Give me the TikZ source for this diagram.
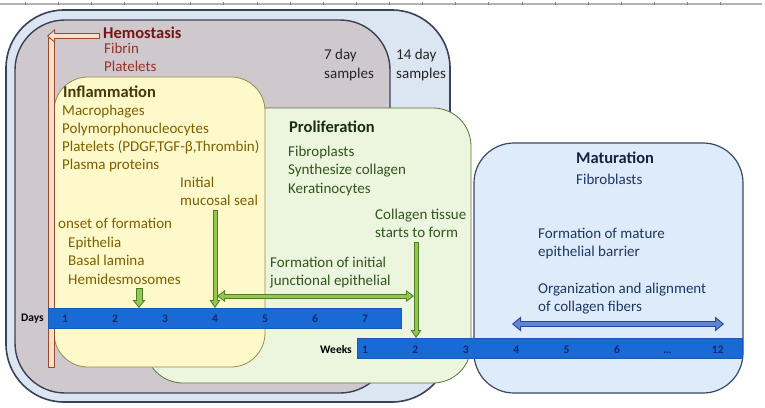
\documentclass[tikz,border=0pt]{standalone}
\usepackage{fontspec}
\setmainfont{Carlito}
\usepackage{xcolor}
\definecolor{rulegray}{RGB}{178,178,178}
\definecolor{outerblue}{RGB}{220,229,242}
\definecolor{boxline}{RGB}{58,66,86}
\definecolor{sevengray}{RGB}{207,201,206}
\definecolor{samptext}{RGB}{38,38,38}
\definecolor{inflfill}{RGB}{254,249,202}
\definecolor{inflline}{RGB}{150,140,80}
\definecolor{inflhead}{RGB}{70,55,5}
\definecolor{infltext}{RGB}{125,95,0}
\definecolor{proffill}{RGB}{236,246,222}
\definecolor{profline}{RGB}{95,115,60}
\definecolor{profhead}{RGB}{25,45,15}
\definecolor{proftext}{RGB}{50,85,30}
\definecolor{matfill}{RGB}{222,235,250}
\definecolor{matline}{RGB}{60,72,100}
\definecolor{mathead}{RGB}{25,35,65}
\definecolor{mattext}{RGB}{30,55,100}
\definecolor{hemoline}{RGB}{150,75,45}
\definecolor{hemofill}{RGB}{250,224,202}
\definecolor{hemohead}{RGB}{120,20,20}
\definecolor{hemotext}{RGB}{150,50,40}
\definecolor{barblue}{RGB}{26,106,214}
\definecolor{barnum}{RGB}{15,40,110}
\definecolor{grnline}{RGB}{80,125,40}
\definecolor{grnfill}{RGB}{146,200,80}
\definecolor{bluline}{RGB}{40,70,155}
\definecolor{blufill}{RGB}{95,132,212}
\usetikzlibrary{arrows.meta}
\usetikzlibrary{calc}
\tikzset{
  txt/.style={inner sep=0pt, anchor=base west, font=\fontsize{15}{18}\selectfont},
  hd/.style={inner sep=0pt, anchor=base west, font=\fontsize{16.5}{18}\selectfont\bfseries},
  barlab/.style={inner sep=0pt, font=\fontsize{11.5}{13}\selectfont\bfseries}
}

\begin{document}
\begin{tikzpicture}[x=1pt, y=-1pt]
	\fill[white] (0,0) rectangle (765,407);
	\useasboundingbox (0,0) rectangle (765,407);
				% ruler line on top
	\draw[rulegray, line width=2pt] (0,3.5) -- (762,3.5);
	\foreach \k in {0,...,21}
		\draw[gray, line width=0.7pt] (25+33.13*\k,2) -- ++(0,3);
				% sample boxes
	\filldraw[color=outerblue, line width=1.6pt, draw=boxline, rounded corners=58pt] (6,10) rectangle ++(444,392);
	\filldraw[color=sevengray, line width=1.4pt, draw=boxline, rounded corners=50pt] (15,20) rectangle ++(375,373);
	\node[txt, text=samptext] (seven) at (324,59) {7 day};
	\node[txt, text=samptext] (sevens) at (324,78) {samples};
	\node[txt, text=samptext] (fourteen) at (396,59) {14 day};
	\node[txt, text=samptext] (fourteens) at (396,78) {samples};
				% phase boxes
	\filldraw[color=proffill, thick, draw=profline, rounded corners=38pt] (145,108) rectangle ++(326,275);
	\filldraw[color=matfill, line width=1.2pt, draw=matline, rounded corners=40pt] (474,143) rectangle ++(269,250);
	\filldraw[color=inflfill, thick, draw=inflline, rounded corners=34pt] (54,77) rectangle ++(211,290);
				% hemostasis bar
	\filldraw[color=hemofill, thick, draw=hemoline] (48,38) rectangle ++(6,329);
	\node[hd, text=hemohead] (hemo) at (103,38) {Hemostasis};
	\node[txt, text=hemotext] (fibrin) at (104,53) {Fibrin};
	\node[txt, text=hemotext] (hplate) at (104,71.5) {Platelets};
	\coordinate (hemotip) at (47,36);
	\draw[hemoline, line width=6.5pt, -{Triangle[width=14pt, length=8pt, line width=0pt]}] ([xshift=-3pt]hemo.west |- hemotip) -- (hemotip);
	\draw[hemofill, line width=4.5pt, shorten <=1pt, shorten >=1.5pt, -{Triangle[width=9.6pt, length=5.5pt, line width=0pt]}] ([xshift=-3pt]hemo.west |- hemotip) -- (hemotip);
				% time bars
	\filldraw[color=barblue, draw=barblue!85!black, thin] (48,308) rectangle ++(353,20);
	\filldraw[color=barblue, draw=barblue!85!black, thin] (357,338) rectangle ++(385,20);
	\node[barlab, anchor=base east] (days) at (44,321) {Days};
	\node[barlab, anchor=base east] (weeks) at (352,353) {Weeks};
	\foreach \n in {1,...,7}
		\node[barlab, text=barnum, anchor=base] (day\n) at (15+50*\n,322) {\n};
	\foreach \lab [count=\i] in {1,2,3,4,5,6,\dots,12}
		\node[barlab, text=barnum, anchor=base] (wk\i) at (314.6+50.4*\i,353) {\lab};
	\coordinate (d25) at (139,308);
	\coordinate (d4) at (215,308);
	\coordinate (w2) at (416,338);
	\coordinate (jl) at (217,296);
	\coordinate (jr) at (414,296);
	\coordinate (ml) at (512,324);
	\coordinate (mr) at (724,324);
				% inflammation texts
	\node[hd, text=inflhead] (infl) at (63,97.5) {Inflammation};
	\node[txt, text=infltext] (macro) at (62,115.5) {Macrophages};
	\node[txt, text=infltext] (poly) at (62,133.5) {Polymorphonucleocytes};
	\node[txt, text=infltext] (iplate) at (62,151.5) {Platelets (PDGF,TGF-β,Thrombin)};
	\node[txt, text=infltext] (plasma) at (62,169.5) {Plasma proteins};
	\node[txt, text=infltext] (init) at (180,187) {Initial};
	\node[txt, text=infltext] (seal) at (180,205) {mucosal seal};
	\node[txt, text=infltext] (onset) at (58,228) {onset of formation};
	\node[txt, text=infltext] (epi) at (68,247) {Epithelia};
	\node[txt, text=infltext] (basal) at (68,265.5) {Basal lamina};
	\node[txt, text=infltext] (hemi) at (68,284) {Hemidesmosomes};
				% proliferation texts
	\node[hd, text=profhead] (prolif) at (289,132) {Proliferation};
	\node[txt, text=proftext] (fibro) at (288,156) {Fibroplasts};
	\node[txt, text=proftext] (synth) at (288,174.5) {Synthesize collagen};
	\node[txt, text=proftext] (kera) at (288,193) {Keratinocytes};
	\node[txt, text=proftext] (coll) at (375,219) {Collagen tissue};
	\node[txt, text=proftext] (starts) at (375,237) {starts to form};
	\node[txt, text=proftext] (forminit) at (270,267) {Formation of initial};
	\node[txt, text=proftext] (junc) at (270,285) {junctional epithelial};
				% maturation texts
	\node[hd, text=mathead] (matur) at (576,163) {Maturation};
	\node[txt, text=mattext] (fibrob) at (576,184) {Fibroblasts};
	\node[txt, text=mattext] (mature) at (538,238) {Formation of mature};
	\node[txt, text=mattext] (barrier) at (538,256) {epithelial barrier};
	\node[txt, text=mattext] (organ) at (538,293) {Organization and alignment};
	\node[txt, text=mattext] (fibers) at (538,311) {of collagen fibers};
				% green arrows
	\draw[grnline, line width=7pt, -{Triangle[width=13pt, length=8pt, line width=0pt]}] ($(hemi.south -| d25)+(0,4)$) -- (d25);
	\draw[grnfill, line width=5pt, shorten <=1pt, shorten >=1.6pt, -{Triangle[width=8.8pt, length=5.4pt, line width=0pt]}] ($(hemi.south -| d25)+(0,4)$) -- (d25);
	\draw[grnline, line width=5pt, -{Triangle[width=11pt, length=8pt, line width=0pt]}] ($(seal.south -| d4)+(0,5)$) -- (d4);
	\draw[grnfill, line width=3pt, shorten <=1pt, shorten >=1.8pt, -{Triangle[width=7.2pt, length=5.2pt, line width=0pt]}] ($(seal.south -| d4)+(0,5)$) -- (d4);
	\draw[grnline, line width=5pt, -{Triangle[width=11pt, length=8pt, line width=0pt]}] ($(starts.south -| w2)+(0,5)$) -- (w2);
	\draw[grnfill, line width=3pt, shorten <=1pt, shorten >=1.8pt, -{Triangle[width=7.2pt, length=5.2pt, line width=0pt]}] ($(starts.south -| w2)+(0,5)$) -- (w2);
	\draw[grnline, line width=5pt, {Triangle[width=12pt, length=8pt, line width=0pt]}-{Triangle[width=12pt, length=8pt, line width=0pt]}] (jl) -- (jr);
	\draw[grnfill, line width=3pt, shorten <=1.7pt, shorten >=1.7pt, {Triangle[width=8pt, length=5.3pt, line width=0pt]}-{Triangle[width=8pt, length=5.3pt, line width=0pt]}] (jl) -- (jr);
				% blue arrow
	\draw[bluline, line width=6.5pt, {Triangle[width=15pt, length=9pt, line width=0pt]}-{Triangle[width=15pt, length=9pt, line width=0pt]}] (ml) -- (mr);
	\draw[blufill, line width=4.5pt, shorten <=1.6pt, shorten >=1.6pt, {Triangle[width=10.7pt, length=6.4pt, line width=0pt]}-{Triangle[width=10.7pt, length=6.4pt, line width=0pt]}] (ml) -- (mr);
\end{tikzpicture}
\end{document}
